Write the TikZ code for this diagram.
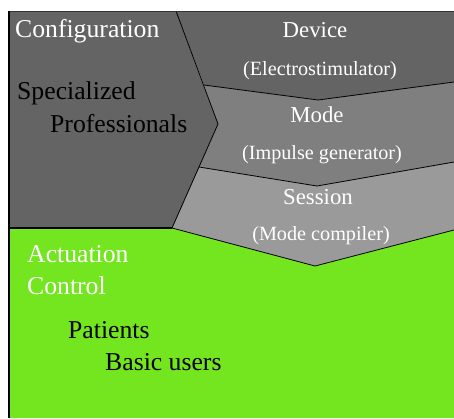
\documentclass[tikz,border=0pt]{standalone}
\usepackage{fontspec}
\setmainfont{Liberation Serif}
\definecolor{darkzone}{HTML}{646464}
\definecolor{modezone}{HTML}{7F7F7F}
\definecolor{sessionzone}{HTML}{9A9A9A}
\definecolor{actzone}{HTML}{73E620}
\tikzset{
  zone/.style={draw=black, line width=0.8pt, line join=miter},
  biglabel/.style={inner sep=0pt, font=\fontsize{25.7}{30}\selectfont},
  sidelabel/.style={inner sep=0pt, text=white, font=\fontsize{22.8}{27}\selectfont},
  sublabel/.style={inner sep=0pt, text=white, font=\fontsize{20.2}{24}\selectfont},
}
\begin{document}
\begin{tikzpicture}[x=1pt, y=-1pt]
\useasboundingbox (0,0) rectangle (454,418);

% corner points of the layered zones
\coordinate (tl) at (9,11);
\coordinate (ct) at (176,11);
\coordinate (tip) at (218,124);
\coordinate (cb) at (172,228);
\coordinate (bl) at (9,228);
\coordinate (tr) at (454,11);
\coordinate (d1) at (204,85);
\coordinate (d2) at (318,100);
\coordinate (d3) at (454,82);
\coordinate (m1) at (199,167);
\coordinate (m2) at (317,186);
\coordinate (m3) at (454,162);
\coordinate (s2) at (315,266);
\coordinate (s3) at (454,230);
\coordinate (br) at (454,418);
\coordinate (lb) at (9,418);

% actuation area
\fill[actzone] (bl) -- (cb) -- (s2) -- (s3) -- (br) -- (lb) -- cycle;
% session layer
\fill[sessionzone] (m1) -- (m2) -- (m3) -- (s3) -- (s2) -- (cb) -- cycle;
% mode layer
\fill[modezone] (d1) -- (d2) -- (d3) -- (m3) -- (m2) -- (m1) -- (tip) -- cycle;
% device layer
\fill[darkzone] (ct) -- (tr) -- (d3) -- (d2) -- (d1) -- cycle;
% configuration area
\fill[darkzone] (tl) -- (ct) -- (tip) -- (cb) -- (bl) -- cycle;

% boundaries
\draw[zone] (ct) -- (tip) -- (cb);
\draw[zone] (d1) -- (d2) -- (d3);
\draw[zone] (m1) -- (m2) -- (m3);
\draw[zone] (cb) -- (s2) -- (s3);
\draw[black, line width=1.6pt] (bl) -- (cb);
\draw[black!80, line width=0.8pt] (tl) -- (tr);
\draw[black, line width=2pt] (lb) -- (tl);

% labels
\node[biglabel, text=white, anchor=base west] (config) at (15,37) {Configuration};
\node[biglabel, anchor=base west] (spec) at (17,99) {Specialized};
\node[biglabel, anchor=base west] (prof) at (50,132) {Professionals};

\node[sidelabel, anchor=base] (device) at (315,37) {Device};
\node[sublabel, anchor=base] (devsub) at (320,75) {(Electrostimulator)};
\node[sidelabel, anchor=base] (mode) at (317,122) {Mode};
\node[sublabel, anchor=base] (modesub) at (322,159) {(Impulse generator)};
\node[sidelabel, anchor=base] (session) at (318,204) {Session};
\node[sublabel, anchor=base] (sesssub) at (321,240) {(Mode compiler)};

\node[biglabel, text=white, anchor=base west] (act) at (27,262) {Actuation};
\node[biglabel, text=white, anchor=base west] (ctrl) at (27,294) {Control};
\node[biglabel, anchor=base west] (pat) at (68,338) {Patients};
\node[biglabel, anchor=base west] (basic) at (105,370) {Basic users};
\end{tikzpicture}
\end{document}
